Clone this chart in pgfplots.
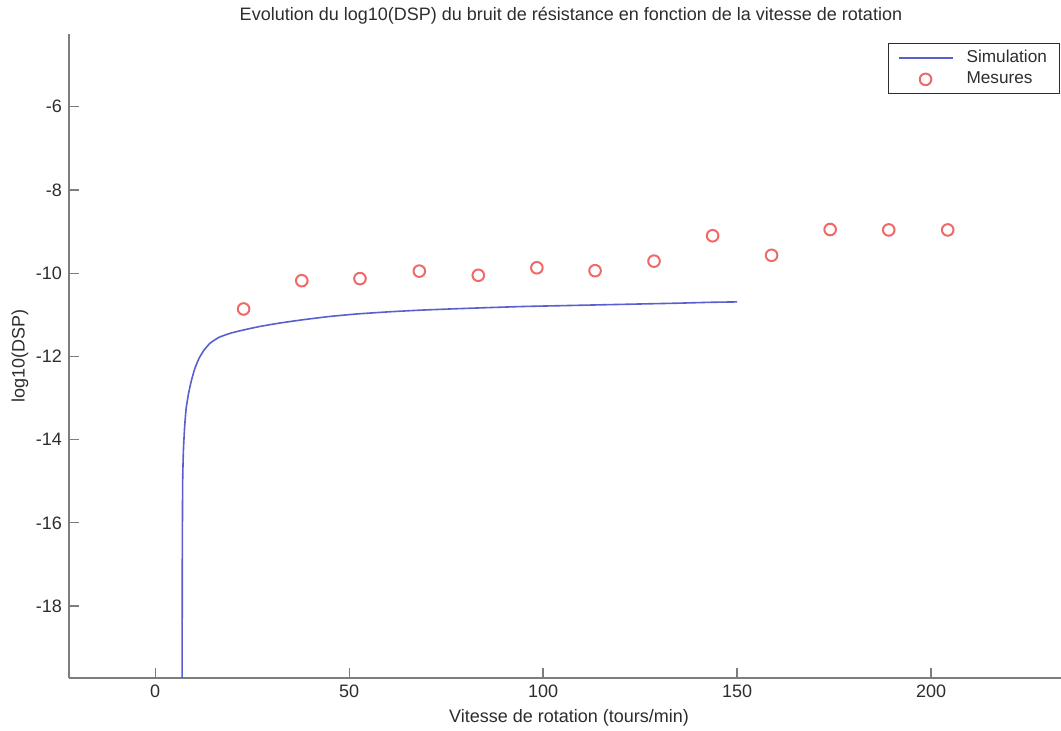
\documentclass[border=0pt]{standalone}
\usepackage{pgfplots}
\pgfplotsset{compat=1.18}
\usepackage{fontspec}
\setmainfont{Liberation Sans}
\definecolor{simblue}{RGB}{88,96,205}
\definecolor{mesred}{RGB}{240,105,105}
\definecolor{axgray}{RGB}{125,125,125}
\definecolor{txt}{RGB}{45,45,45}
\begin{document}
\begin{tikzpicture}
\useasboundingbox (-34.5pt,-26.5pt) rectangle (496pt,339pt);
\begin{axis}[
  scale only axis,
  width=496pt, height=322pt,
  at={(0,0)}, anchor=south west,
  xmin=-22.2, xmax=233.5,
  ymin=-19.73, ymax=-4.25,
  axis x line*=bottom, axis y line*=left,
  axis line style={draw=axgray, line width=0.6pt, -},
  tick style={draw=axgray, line width=0.6pt},
  tick align=inside,
  major tick length=5pt,
  xtick={0,50,100,150,200},
  ytick={-18,-16,-14,-12,-10,-8,-6},
  tick label style={font=\fontsize{9}{11}\selectfont, text=txt},
  /pgf/number format/assume math mode=true,
  xlabel={Vitesse de rotation (tours/min)},
  ylabel={log10(DSP)},
  x label style={at={(axis description cs:0.504,-0.0625)}, anchor=center, font=\fontsize{9}{11}\selectfont, text=txt},
  y label style={at={(axis description cs:-0.0494,0.5)}, anchor=center, rotate=0, font=\fontsize{9}{11}\selectfont, text=txt},
  every axis title shift=0pt,
  title={Evolution du log10(DSP) du bruit de résistance en fonction de la vitesse de rotation},
  title style={at={(axis description cs:0.506,1.028)}, anchor=center, font=\fontsize{9}{11}\selectfont, text=txt},
  legend style={at={(rel axis cs:1,1)}, anchor=north east, xshift=-0.3pt, yshift=-4.5pt,
    draw=txt, line width=0.5pt, font=\fontsize{8.6}{10.5}\selectfont, text=txt,
    inner xsep=4.5pt, inner ysep=1.5pt, row sep=-1pt, cells={anchor=west}},
  legend image code/.code={\draw[#1,mark repeat=2,mark phase=2] plot coordinates {(0pt,0pt)(13.5pt,0pt)(27pt,0pt)}; \path (31.5pt,0pt);},
  clip=true,
]
\addplot[simblue, line width=0.8pt, smooth, tension=0.3] coordinates {
(6.95,-20.5) (7.0,-17.0) (7.1,-15.0) (7.3,-14.25) (7.6,-13.7) (8.0,-13.25)
(8.6,-12.9) (9.3,-12.6) (10.2,-12.3) (11.3,-12.05) (12.6,-11.85) (14.2,-11.68)
(16.5,-11.54) (19.5,-11.44) (23,-11.36) (27,-11.28) (32,-11.2) (38,-11.12)
(45,-11.04) (52,-10.98) (60,-10.93) (68,-10.89) (76,-10.86) (85,-10.83)
(95,-10.80) (105,-10.78) (115,-10.76) (125,-10.74) (135,-10.72) (143,-10.70) (150,-10.69)
};
\addlegendentry{Simulation}
\addplot[only marks, mark=o, mark size=2.9pt, mesred, line width=1pt] coordinates {
(22.8,-10.86) (37.8,-10.18) (52.8,-10.13) (68.1,-9.95) (83.3,-10.05)
(98.4,-9.87) (113.4,-9.94) (128.6,-9.71) (143.7,-9.10) (158.9,-9.57)
(174.0,-8.95) (189.1,-8.96) (204.3,-8.96)
};
\addlegendentry{Mesures}
\end{axis}
\end{tikzpicture}
\end{document}
